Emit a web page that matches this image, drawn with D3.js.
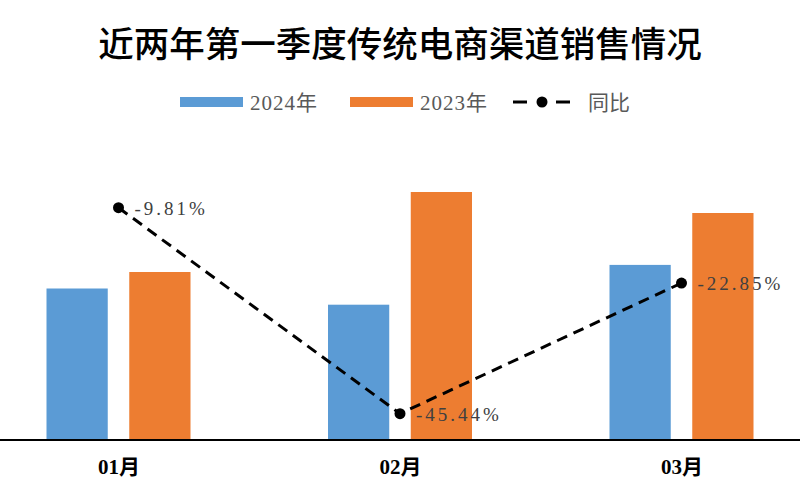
<!DOCTYPE html>
<html><head><meta charset="utf-8">
<script src="https://cdn.jsdelivr.net/npm/d3@7"></script>
<style>body{margin:0;background:#fff}</style>
</head><body>
<script>
const categories = ["01月", "02月", "03月"];
const seriesNames = ["2024年", "2023年"];
const values2024 = [151.5, 135.3, 175.1];
const values2023 = [168.0, 248.0, 227.0];
const yoy = [-9.81, -45.44, -22.85];
const yoyLabels = ["-9.81%", "-45.44%", "-22.85%"];
const lineName = "同比";

const W = 800, H = 500;
const colors = ["#5B9BD5", "#ED7D31"];
const svg = d3.select("body").append("svg").attr("width", W).attr("height", H);

const baseY = 440, topY = 151;
const x = d3.scalePoint().domain(categories).range([118.5, 681.5]);
const sub = d3.scaleBand().domain(seriesNames).range([-72, 72]).paddingInner(0.26);
const y = d3.scaleLinear().domain([0, 289]).range([baseY, topY]);
const y2 = d3.scaleLinear().domain([-50, 0]).range([baseY, topY]);

const serif = "'Liberation Serif','Noto Sans CJK SC',serif";

// title
svg.append("text").attr("x", 400).attr("y", 57).attr("text-anchor", "middle")
  .attr("font-family", "'Noto Sans CJK SC',sans-serif").attr("font-size", 35.5)
  .attr("font-weight", 500)
  .attr("fill", "#000").text("近两年第一季度传统电商渠道销售情况");

// bars
const seriesVals = [values2024, values2023];
seriesNames.forEach((s, si) => {
  svg.append("g").selectAll("rect").data(categories).join("rect")
    .attr("x", c => x(c) + sub(s))
    .attr("width", sub.bandwidth())
    .attr("y", (c, i) => y(seriesVals[si][i]))
    .attr("height", (c, i) => baseY - y(seriesVals[si][i]))
    .attr("fill", colors[si]);
});

// axis
const xAxis = d3.axisBottom(x).tickSize(0).tickPadding(19);
const ag = svg.append("g").attr("transform", `translate(0,${baseY})`).call(xAxis);
ag.select(".domain").remove();
svg.append("line").attr("x1", 0).attr("x2", W).attr("y1", baseY).attr("y2", baseY)
  .attr("stroke", "#000").attr("stroke-width", 2);
ag.selectAll("text").attr("font-family", serif).attr("font-size", 21)
  .attr("font-weight", "bold").attr("fill", "#000");

// line
const line = d3.line().x((d, i) => x(categories[i])).y(d => y2(d));
svg.append("path").datum(yoy).attr("d", line).attr("fill", "none")
  .attr("stroke", "#000").attr("stroke-width", 3).attr("stroke-dasharray", "11,7");
svg.append("g").selectAll("circle").data(yoy).join("circle")
  .attr("cx", (d, i) => x(categories[i])).attr("cy", d => y2(d)).attr("r", 5.5).attr("fill", "#000");
svg.append("g").selectAll("text").data(yoy).join("text")
  .attr("x", (d, i) => x(categories[i]) + 16).attr("y", d => y2(d) + 7)
  .attr("font-family", serif).attr("font-size", 19).attr("fill", "#404040")
  .attr("letter-spacing", 3)
  .text((d, i) => yoyLabels[i]);

// legend
const lg = svg.append("g").attr("font-family", serif).attr("font-size", 21).attr("fill", "#595959");
const legX = [180, 350];
seriesNames.forEach((s, i) => {
  lg.append("rect").attr("x", legX[i]).attr("y", 97).attr("width", 63).attr("height", 10).attr("fill", colors[i]);
  lg.append("text").attr("x", legX[i] + 70).attr("y", 110).attr("letter-spacing", 1).text(s);
});
[[513, 527], [556, 570]].forEach(([a, b]) => {
  lg.append("line").attr("x1", a).attr("x2", b).attr("y1", 102).attr("y2", 102)
    .attr("stroke", "#000").attr("stroke-width", 3);
});
lg.append("circle").attr("cx", 542).attr("cy", 102).attr("r", 5.5).attr("fill", "#000");
lg.append("text").attr("x", 588).attr("y", 110).text(lineName);
</script>
</body></html>
